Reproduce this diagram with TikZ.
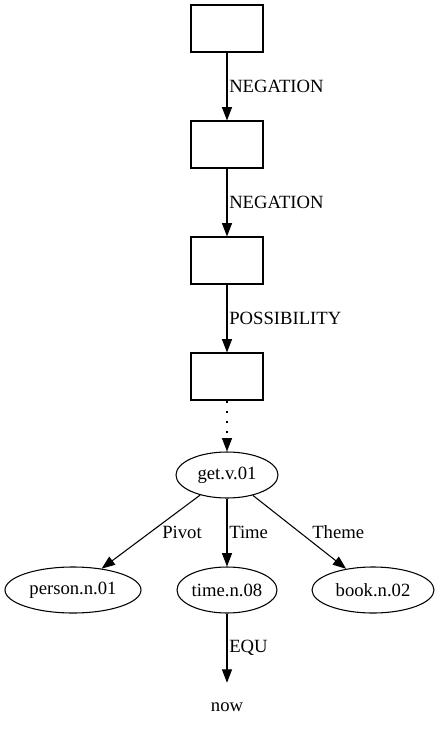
\documentclass[tikz,border=0pt]{standalone}
\usepackage{fontspec}
\setmainfont{Liberation Serif}
\usetikzlibrary{arrows.meta,shapes.geometric}
\begin{document}
\begin{tikzpicture}[x=0.75pt,y=-0.75pt,
  every node/.style={font=\fontsize{14}{16}\selectfont},
  box/.style={draw, line width=0.8pt, minimum width=54pt, minimum height=35.25pt, inner sep=0pt},
  concept/.style={draw, ellipse, line width=0.8pt, minimum height=34.5pt, inner sep=0pt},
  plain/.style={inner sep=0pt, minimum height=36pt},
  rel/.style={draw, line width=0.8pt, -{Triangle[length=10pt,width=7.5pt]}},
  lab/.style={anchor=west, inner sep=0pt},
]
\useasboundingbox (0,0) rectangle (440,736);

% operator boxes
\node[box] (b1) at (227,28.5) {};
\node[box] (b2) at (227,144.5) {};
\node[box] (b3) at (227,260.5) {};
\node[box] (b4) at (227,376.5) {};

% concepts
\node[concept, minimum width=76.5pt] (get) at (227,475) {get.v.01};
\node[concept, minimum width=102pt] (person) at (73,590) {person.n.01};
\node[concept, minimum width=75pt] (time) at (227,590) {time.n.08};
\node[concept, minimum width=91.5pt] (book) at (373,590) {book.n.02};
\node[plain] (now) at (227,707) {now};

% relations
\draw[rel] (b1) -- (b2);
\draw[rel] (b2) -- (b3);
\draw[rel] (b3) -- (b4);
\draw[rel, dash pattern=on 1.5pt off 6pt] (b4) -- (get);
\draw[rel] (get) -- (person);
\draw[rel] (get) -- (time);
\draw[rel] (get) -- (book);
\draw[rel] (time) -- (now.north);

% relation labels
\node[lab] (l1) at (229,86) {NEGATION};
\node[lab] (l2) at (229,202) {NEGATION};
\node[lab] (l3) at (229,318) {POSSIBILITY};
\node[lab] (l4) at (162,532) {Pivot};
\node[lab] (l5) at (229,532) {Time};
\node[lab] (l6) at (312,532) {Theme};
\node[lab] (l7) at (229,648) {EQU};
\end{tikzpicture}
\end{document}
